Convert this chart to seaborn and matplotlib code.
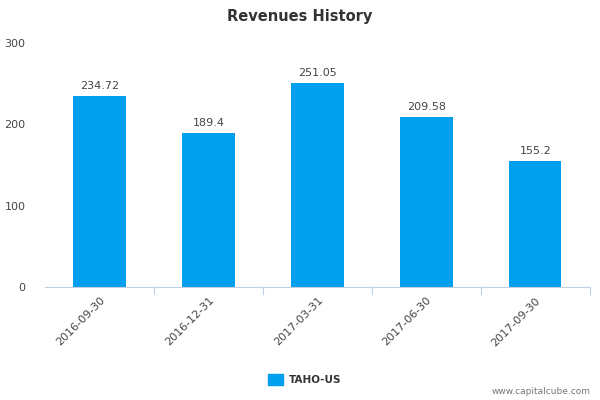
import matplotlib
matplotlib.use("Agg")
import matplotlib.pyplot as plt
import seaborn as sns
import pandas as pd

periods = ["2016-09-30", "2016-12-31", "2017-03-31", "2017-06-30", "2017-09-30"]
revenues = [234.72, 189.4, 251.05, 209.58, 155.2]
value_labels = ["234.72", "189.4", "251.05", "209.58", "155.2"]
series_name = "TAHO-US"

df = pd.DataFrame({"period": periods, "revenue": revenues})
bar_color = "#039fef"

fig = plt.figure(figsize=(6, 4), dpi=100)
ax = fig.add_axes([0.075, 0.2825, 0.908, 0.61])
sns.barplot(data=df, x="period", y="revenue", color=bar_color, width=0.48,
            saturation=1, ax=ax)

for i, (v, lab) in enumerate(zip(revenues, value_labels)):
    ax.text(i, v + 6, lab, ha="center", va="bottom", fontsize=8, color="#444444")

ax.set_ylim(0, 300)
ax.set_yticks([0, 100, 200, 300])
ax.set_xlim(-0.5, 4.5)
ax.set_xlabel("")
ax.set_ylabel("")
for s in ["top", "right", "left"]:
    ax.spines[s].set_visible(False)
ax.spines["bottom"].set_color("#c0d0e0")
ax.tick_params(axis="y", length=0, labelsize=8, labelcolor="#444444", pad=14)
ax.tick_params(axis="x", length=0, labelsize=8, labelcolor="#444444", pad=6)
for t in ax.get_xticklabels():
    t.set_rotation(45)
    t.set_ha("right")
    t.set_rotation_mode("anchor")
for b in [0.5, 1.5, 2.5, 3.5, 4.5]:
    ax.plot([b, b], [0, -0.03], transform=ax.get_xaxis_transform(),
            color="#c0d0e0", lw=0.8, clip_on=False)

fig.text(0.5, 0.96, "Revenues History", ha="center", va="center",
         fontsize=10.5, fontweight="bold", color="#333333")
fig.patches.append(plt.Rectangle((0.447, 0.038), 0.025, 0.028, color=bar_color,
                                 transform=fig.transFigure, figure=fig))
fig.text(0.482, 0.05, series_name, ha="left", va="center", fontsize=7.5,
         fontweight="bold", color="#333333")
fig.text(0.985, 0.022, "www.capitalcube.com", ha="right", va="center",
         fontsize=6.5, color="#777777")

fig.savefig("out.png", dpi=100)
